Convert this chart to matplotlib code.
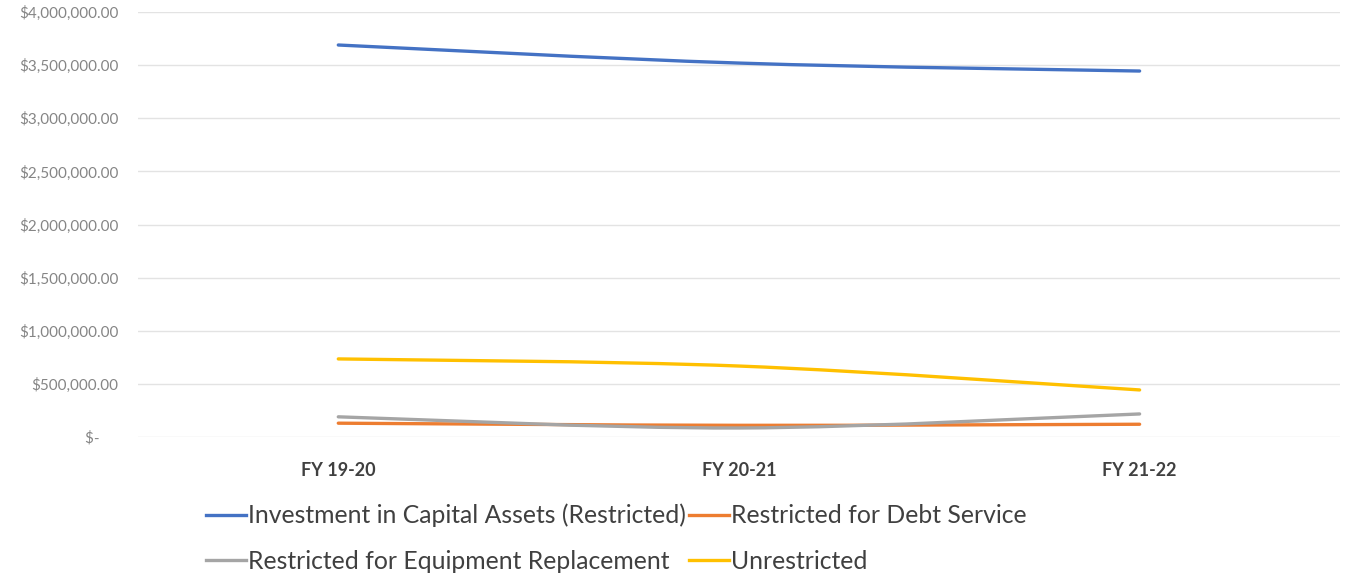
import matplotlib
matplotlib.use("Agg")
import matplotlib.pyplot as plt
from matplotlib.path import Path
from matplotlib.patches import PathPatch
from matplotlib.lines import Line2D
from matplotlib.ticker import FuncFormatter

categories = ["FY 19-20", "FY 20-21", "FY 21-22"]
series_names = [
    "Investment in Capital Assets (Restricted)",
    "Restricted for Debt Service",
    "Restricted for Equipment Replacement",
    "Unrestricted",
]
capital_assets = [3690000, 3520000, 3445000]
debt_service = [130000, 110000, 120000]
equipment_replacement = [190000, 85000, 217000]
unrestricted = [735000, 668000, 443000]
series_values = [capital_assets, debt_service, equipment_replacement, unrestricted]
colors = ["#4472C4", "#ED7D31", "#A5A5A5", "#FFC000"]

plt.rcParams["font.family"] = ["Lato", "DejaVu Sans"]

fig = plt.figure(figsize=(13.46, 5.75), dpi=100)
ax = fig.add_axes([0.1025, 0.24, 0.893, 0.739])


def smooth_path(xs, ys):
    # Cardinal-spline style Bezier segments through the points
    verts = [(xs[0], ys[0])]
    codes = [Path.MOVETO]
    n = len(xs)
    for i in range(n - 1):
        x0, y0 = (xs[i - 1], ys[i - 1]) if i > 0 else (xs[i], ys[i])
        x1, y1 = xs[i], ys[i]
        x2, y2 = xs[i + 1], ys[i + 1]
        x3, y3 = (xs[i + 2], ys[i + 2]) if i + 2 < n else (x2, y2)
        c1 = (x1 + (x2 - x0) / 6.0, y1 + (y2 - y0) / 6.0)
        c2 = (x2 - (x3 - x1) / 6.0, y2 - (y3 - y1) / 6.0)
        verts += [c1, c2, (x2, y2)]
        codes += [Path.CURVE4] * 3
    return Path(verts, codes)


xpos = list(range(len(categories)))
for vals, col in zip(series_values, colors):
    patch = PathPatch(smooth_path(xpos, vals), facecolor="none", edgecolor=col,
                      lw=2.4, capstyle="round", joinstyle="round", zorder=3)
    ax.add_patch(patch)

ax.set_xlim(-0.5, len(categories) - 0.5)
ax.set_ylim(0, 4000000)
ax.set_yticks([i * 500000 for i in range(9)])


def money(v, pos):
    if v == 0:
        return "$-     "
    return "${:,.2f}".format(v)


ax.yaxis.set_major_formatter(FuncFormatter(money))
ax.set_xticks(xpos)
ax.set_xticklabels(categories, fontsize=13, color="#404040", fontweight="bold")
ax.tick_params(axis="y", labelsize=11, labelcolor="#858585", length=0, pad=14)
ax.tick_params(axis="x", length=0, pad=18)
ax.grid(axis="y", color="#e3e3e3", lw=1)
ax.set_axisbelow(True)
for s in ax.spines.values():
    s.set_visible(False)

# row-wise legend order: two entries per row
order = [0, 2, 1, 3]
handles = [Line2D([0], [0], color=colors[i], lw=2.4) for i in order]
labels = [series_names[i] for i in order]
fig.legend(handles, labels, loc="upper left", bbox_to_anchor=(0.1527, 0.124),
           ncol=2, frameon=False, fontsize=17.8, handlelength=1.65, handletextpad=0.08,
           columnspacing=0.1, labelspacing=0.9, labelcolor="#404040",
           borderpad=0, borderaxespad=0)

fig.savefig("out.png", dpi=100, facecolor="white")
